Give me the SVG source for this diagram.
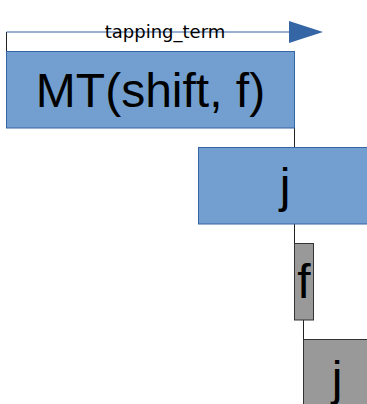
<svg xmlns="http://www.w3.org/2000/svg" width="367" height="404" viewBox="0 0 367 404">
<defs>
<style>
.blue{fill:#729fcf;stroke:#3465a4;stroke-width:1}
.gray{fill:#999999;stroke:#333333;stroke-width:1}
.big{font-family:"Liberation Sans",Arial,sans-serif;font-size:48px;fill:#000;text-anchor:middle}
.lbl{font-family:"DejaVu Sans",sans-serif;font-size:18px;fill:#000;text-anchor:middle}
.wire{fill:none;stroke:#222;stroke-width:1}
</style>
</defs>
<rect width="367" height="404" fill="#ffffff"/>
<g id="connectors">
<line class="wire" x1="6.5" y1="32" x2="6.5" y2="51.5"/>
<line x1="6.5" y1="32" x2="290" y2="32" stroke="#3465a4" stroke-width="1"/>
<polygon points="289,21 323,32 289,43" fill="#3465a4"/>
<line class="wire" x1="294.5" y1="128" x2="294.5" y2="147.5"/>
<line class="wire" x1="294.5" y1="224" x2="294.5" y2="243.5"/>
<line class="wire" x1="303.5" y1="320" x2="303.5" y2="339.5"/>
<text class="lbl" x="165" y="38">tapping_term</text>
</g>
<g id="mt">
<rect class="blue" x="6.5" y="51.5" width="288" height="76.5"/>
<text class="big" x="150.5" y="107">MT(shift, f)</text>
</g>
<g id="j1">
<rect class="blue" x="198.5" y="147.5" width="174" height="76.5"/>
<text class="big" x="285" y="202">j</text>
</g>
<g id="f">
<rect class="gray" x="294.5" y="243.5" width="19" height="76.5"/>
<text class="big" x="304" y="298">f</text>
</g>
<g id="j2">
<rect class="gray" x="303.5" y="339.5" width="67" height="76.5"/>
<text class="big" x="337" y="395">j</text>
</g>
</svg>
